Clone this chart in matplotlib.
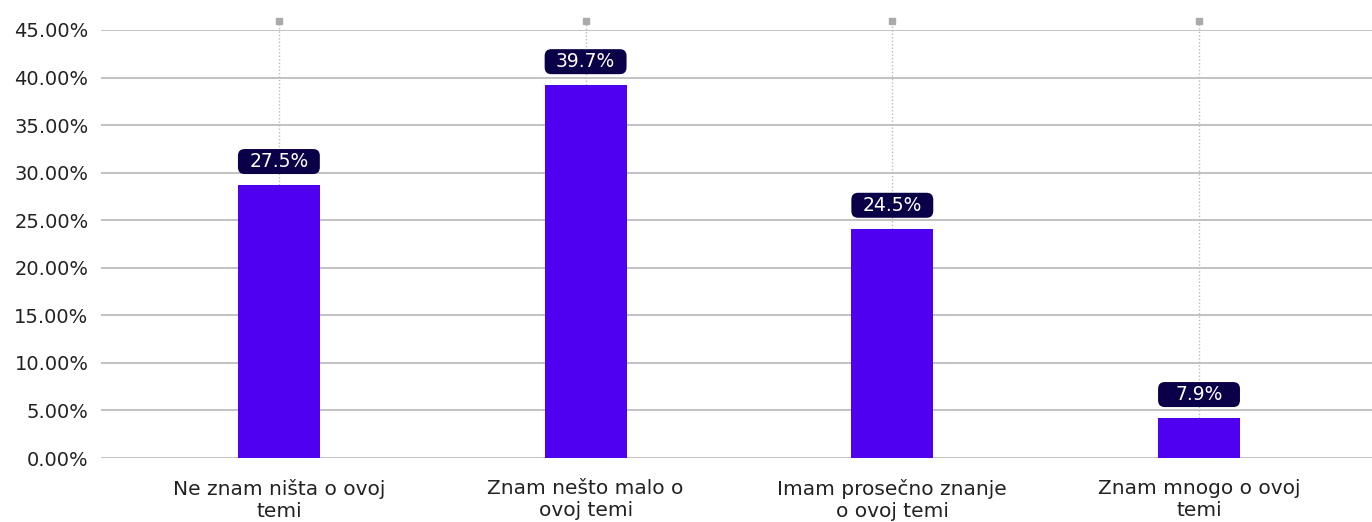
import matplotlib.pyplot as plt
from matplotlib.patches import FancyBboxPatch
from matplotlib.ticker import FuncFormatter

# data
categories = ['Ne znam ništa o ovoj\ntemi', 'Znam nešto malo o\novoj temi',
              'Imam prosečno znanje\no ovoj temi', 'Znam mnogo o ovoj\ntemi']
bar_values = [28.7, 39.2, 24.1, 4.2]
labels = ['27.5%', '39.7%', '24.5%', '7.9%']

plt.rcParams['font.family'] = ['DejaVu Sans']

fig = plt.figure(figsize=(13.72, 5.22), dpi=100)
ax = fig.add_axes([101 / 1372, 1 - 458 / 522, 1 - 101 / 1372, (458 - 30) / 522])

x = list(range(len(categories)))
bw = 0.267
ax.bar(x, bar_values, width=bw, color='#4f00f0', zorder=3)

ax.set_ylim(0, 45)
ax.set_xlim(-0.580, 3.564)
ax.set_yticks(range(0, 46, 5))
ax.yaxis.set_major_formatter(FuncFormatter(lambda v, p: f'{v:.2f}%'))
ax.grid(axis='y', color='#bdbdbd', linewidth=1.3, zorder=0)
ax.tick_params(axis='y', length=0, pad=9, labelsize=14, labelcolor='#222222')
ax.tick_params(axis='x', length=0, pad=15, labelsize=14.5, labelcolor='#222222')
ax.set_xticks(x)
ax.set_xticklabels(categories, linespacing=1.22)
for s in ax.spines.values():
    s.set_visible(False)

# pixel -> data unit helpers (x: 306.67 px per unit, y: 9.51 px per unit)
py = 1 / 9.51
aspect = 306.67 / 9.51

for i, v in enumerate(bar_values):
    ax.plot([i, i], [v, 45.9], color='#bbbbbb', linestyle=(0, (1, 1.5)),
            linewidth=1, zorder=1, clip_on=False)
    ax.plot(i, 45.9, marker='s', markersize=5, color='#aaaaaa', clip_on=False, zorder=2)
    box = FancyBboxPatch((i - bw / 2, v + 11 * py), bw, 25 * py,
                         boxstyle='round,pad=0,rounding_size=0.022',
                         mutation_aspect=aspect, fc='#0a0048', ec='none',
                         zorder=4, clip_on=False)
    ax.add_patch(box)
    ax.text(i, v + 23.5 * py, labels[i], ha='center', va='center',
            color='white', fontsize=13.5, zorder=5)

fig.savefig('out.png', dpi=100)
